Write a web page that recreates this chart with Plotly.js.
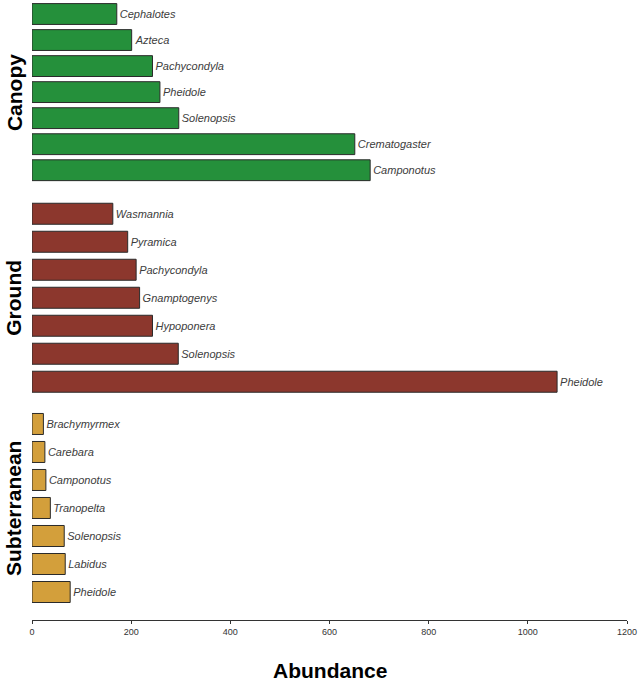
<!DOCTYPE html>
<html>
<head>
<meta charset="utf-8">
<script src="https://cdn.plot.ly/plotly-3.0.1.min.js"></script>
<style>
  body { margin: 0; background: #fff; }
  #chart { width: 638px; height: 683px; }
</style>
</head>
<body>
<div id="chart"></div>
<script>
// genera listed top to bottom within each stratum
var canopyGenera = ['Cephalotes', 'Azteca', 'Pachycondyla', 'Pheidole', 'Solenopsis', 'Crematogaster', 'Camponotus'];
var canopyAbund = [171, 201, 243, 258, 296, 651, 682];

var groundGenera = ['Wasmannia', 'Pyramica', 'Pachycondyla', 'Gnamptogenys', 'Hypoponera', 'Solenopsis', 'Pheidole'];
var groundAbund = [163, 193, 210, 217, 243, 295, 1059];

var subGenera = ['Brachymyrmex', 'Carebara', 'Camponotus', 'Tranopelta', 'Solenopsis', 'Labidus', 'Pheidole'];
var subAbund = [23, 26, 28, 37, 65, 67, 77];

var strata = ['Canopy', 'Ground', 'Subterranean'];
var xTicks = [0, 200, 400, 600, 800, 1000, 1200];

var labelFont = {
    family: 'Liberation Sans, Arial, sans-serif',
    size: 11,
    style: 'italic',
    color: '#3c3c3c'
};

function makeTrace(genera, abund, color, yax, w) {
    return {
        type: 'bar',
        orientation: 'h',
        x: abund,
        y: genera,
        yaxis: yax,
        width: w,
        marker: { color: color, line: { color: '#2a2a2a', width: 1 } },
        texttemplate: '%{y}',
        textposition: 'outside',
        textfont: labelFont,
        cliponaxis: false,
        hoverinfo: 'x+y'
    };
}

var data = [
    makeTrace(canopyGenera, canopyAbund, '#25903b', 'y', 0.8),
    makeTrace(groundGenera, groundAbund, '#8c372d', 'y2', 0.75),
    makeTrace(subGenera, subAbund, '#d39f3b', 'y3', 0.75)
];

function catAxis(domain) {
    return {
        domain: domain,
        anchor: 'x',
        type: 'category',
        range: [6.5, -0.5],
        showticklabels: false,
        showgrid: false,
        zeroline: false,
        showline: false,
        ticks: ''
    };
}

var domains = [[0.7056, 1.0], [0.3623, 0.6789], [0.0226, 0.3393]];

var annotations = strata.map(function (s, i) {
    return {
        text: '<b>' + s + '</b>',
        xref: 'paper', yref: 'paper',
        x: -0.0303, y: (domains[i][0] + domains[i][1]) / 2,
        xanchor: 'center', yanchor: 'middle',
        textangle: -90,
        showarrow: false,
        font: { family: 'Liberation Sans, Arial, sans-serif', size: 21, color: '#000' }
    };
});

annotations.push({
    text: '<b>Abundance</b>',
    xref: 'paper', yref: 'paper',
    x: 0.5, y: -0.081,
    xanchor: 'center', yanchor: 'middle',
    showarrow: false,
    font: { family: 'Liberation Sans, Arial, sans-serif', size: 21, color: '#000' }
});

var layout = {
    width: 638,
    height: 683,
    margin: { l: 32, r: 11, t: 1, b: 63 },
    paper_bgcolor: '#fff',
    plot_bgcolor: '#fff',
    showlegend: false,
    xaxis: {
        anchor: 'free',
        position: 0,
        range: [0, 1200],
        tickvals: xTicks,
        ticktext: xTicks.map(String),
        showgrid: false,
        zeroline: false,
        showline: true,
        linecolor: '#333',
        linewidth: 1,
        ticks: 'outside',
        ticklen: 3,
        tickcolor: '#333',
        tickfont: { family: 'Liberation Sans, Arial, sans-serif', size: 9, color: '#333' }
    },
    yaxis: catAxis(domains[0]),
    yaxis2: catAxis(domains[1]),
    yaxis3: catAxis(domains[2]),
    annotations: annotations
};

Plotly.newPlot('chart', data, layout, { displayModeBar: false, staticPlot: true });
</script>
</body>
</html>
